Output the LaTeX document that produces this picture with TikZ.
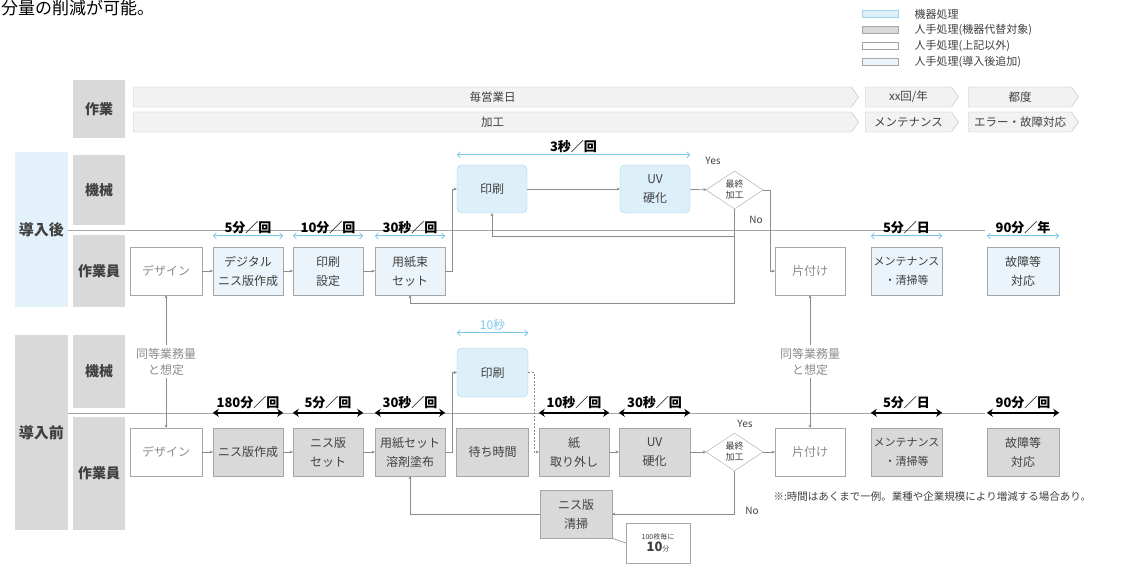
\documentclass[tikz,border=0pt]{standalone}
\usepackage{fontspec}
\setmainfont{Noto Sans CJK JP}
\usetikzlibrary{arrows.meta,shapes.geometric,shapes.symbols}

\definecolor{kiki}{HTML}{DDEFF9}
\definecolor{kikiline}{HTML}{9DD4EF}
\definecolor{tsuika}{HTML}{EBF4FA}
\definecolor{jinte}{HTML}{D9D9D9}
\definecolor{waku}{HTML}{A6A6A6}
\definecolor{usui}{HTML}{F2F2F2}
\definecolor{moji}{HTML}{404040}
\definecolor{usumoji}{HTML}{8C8C8C}
\definecolor{ao}{HTML}{7CC6EA}
\definecolor{obi}{HTML}{E3F1FA}

\begin{document}
\begin{tikzpicture}[x=1pt,y=-1pt,
	box/.style={draw=waku,minimum width=70,minimum height=48,inner sep=1,align=center,font=\fontsize{12}{19}\selectfont,text=moji},
	kikibox/.style={box,fill=kiki,draw=kikiline,rounded corners=5},
	jintebox/.style={box,fill=jinte},
	tsuikabox/.style={box,fill=tsuika},
	sonotabox/.style={box,fill=white,text=usumoji},
	hantei/.style={diamond,draw=waku,fill=white,aspect=1.5,minimum width=57,minimum height=38,inner sep=0,align=center,font=\fontsize{9}{11}\selectfont,text=moji},
	midashi/.style={fill=jinte,minimum width=52,inner sep=0,font=\bfseries\fontsize{14}{16}\selectfont,text=moji},
	yabane/.style={signal,signal to=east,signal pointer angle=110,draw=waku!70,fill=usui,minimum height=20,inner sep=0,font=\fontsize{11.5}{13}\selectfont,text=moji},
	yajirushi/.style={draw=usumoji,line width=0.6,-{Stealth[length=3pt,width=3pt]}},
	kurosen/.style={line width=2,{Stealth[length=6pt,width=8pt]}-{Stealth[length=6pt,width=8pt]}},
	aosen/.style={draw=ao,line width=0.8,{Straight Barb[length=3pt,width=6pt]}-{Straight Barb[length=3pt,width=6pt]}},
	jikan/.style={font=\bfseries\fontsize{13}{15}\selectfont,text=black,inner sep=1},
	komoji/.style={font=\fontsize{10}{12}\selectfont,text=moji}]
	\useasboundingbox[fill=white] (0,0) rectangle (1141,564);
	
	\node[anchor=north west,inner sep=0,font=\fontsize{17}{19}\selectfont,text=black] (bunshou) at (1,0) {分量の削減が可能。};
	
	\node[fill=kiki,draw=kikiline,minimum width=36,minimum height=7,inner sep=0] (hanrei1) at (880,14) {};
	\node[fill=jinte,draw=waku,minimum width=36,minimum height=7,inner sep=0] (hanrei2) at (880,30) {};
	\node[fill=white,draw=waku,minimum width=36,minimum height=7,inner sep=0] (hanrei3) at (880,46) {};
	\node[fill=tsuika,draw=waku,minimum width=36,minimum height=7,inner sep=0] (hanrei4) at (880,62) {};
	\node[anchor=west,font=\fontsize{11}{13}\selectfont,text=moji] (hanreimoji1) at (911,14) {機器処理};
	\node[anchor=west,font=\fontsize{11}{13}\selectfont,text=moji] (hanreimoji2) at (911,30) {人手処理(機器代替対象)};
	\node[anchor=west,font=\fontsize{11}{13}\selectfont,text=moji] (hanreimoji3) at (911,46) {人手処理(上記以外)};
	\node[anchor=west,font=\fontsize{11}{13}\selectfont,text=moji] (hanreimoji4) at (911,62) {人手処理(導入後追加)};
	
	\node[midashi,minimum height=58] (sagyou) at (99,109) {作業};
	\node[yabane,minimum width=725] (maieigyou) at (492.5,97) {毎営業日};
	\node[yabane,minimum width=93] (nenkai) at (908.5,97) {xx回/年};
	\node[yabane,minimum width=110] (tsudo) at (1020,97) {都度};
	\node[yabane,minimum width=725] (kakou) at (492.5,122) {加工};
	\node[yabane,minimum width=93] (mente) at (908.5,122) {メンテナンス};
	\node[yabane,minimum width=110] (eraa) at (1020,122) {エラー・故障対応};
	
	\node[fill=obi,minimum width=53,minimum height=155,inner sep=0,font=\bfseries\fontsize{15}{17}\selectfont,text=moji] (dounyugo) at (41.5,229.5) {導入後};
	\node[midashi,minimum height=70] (kikaiA) at (99,190) {機械};
	\node[midashi,minimum height=72] (sagyouinA) at (99,271) {作業員};
	\draw[waku] (68,230) -- (985,230);
	
	\node[fill=jinte,minimum width=53,minimum height=195,inner sep=0,font=\bfseries\fontsize{15}{17}\selectfont,text=moji] (dounyumae) at (41.5,432.5) {導入前};
	\node[midashi,minimum height=73] (kikaiB) at (99,371.5) {機械};
	\node[midashi,minimum height=113] (sagyouinB) at (99,473.5) {作業員};
	\draw[waku] (68,413) -- (985,413);
	
	\node[sonotabox,minimum width=72] (designA) at (166,271) {デザイン};
	\node[tsuikabox] (digitalA) at (248,271) {デジタル\\ニス版作成};
	\node[tsuikabox] (setteiA) at (328,271) {印刷\\設定};
	\node[tsuikabox] (yoshiA) at (410,271) {用紙束\\セット};
	\node[kikibox] (insatsuA) at (492,189) {印刷};
	\node[kikibox] (uvA) at (655,189) {UV\\硬化};
	\node[hantei] (hanteiA) at (734.5,190) {最終\\加工};
	\node[sonotabox] (katazukeA) at (810,271) {片付け};
	\node[tsuikabox,minimum width=71,font=\fontsize{11}{19}\selectfont] (menteA) at (906.5,271) {メンテナンス\\・清掃等};
	\node[tsuikabox,minimum width=72] (koshoA) at (1023,271) {故障等\\対応};
	
	\draw[aosen] ([yshift=11]digitalA.north west) -- ([yshift=11]digitalA.north east) node[jikan,midway,above=1pt] {5分／回};
	\draw[aosen] ([yshift=11]setteiA.north west) -- ([yshift=11]setteiA.north east) node[jikan,midway,above=1pt] {10分／回};
	\draw[aosen] ([yshift=11]yoshiA.north west) -- ([yshift=11]yoshiA.north east) node[jikan,midway,above=1pt] {30秒／回};
	\draw[aosen] ([yshift=10]insatsuA.north west) -- ([yshift=10]uvA.north east) node[jikan,midway,above=1pt] {3秒／回};
	\draw[aosen] ([yshift=11]menteA.north west) -- ([yshift=11]menteA.north east) node[jikan,midway,above=1pt] {5分／日};
	\draw[aosen] ([yshift=11]koshoA.north west) -- ([yshift=11]koshoA.north east) node[jikan,midway,above=1pt] {90分／年};
	
	\draw[yajirushi] (designA) -- (digitalA);
	\draw[yajirushi] (digitalA) -- (setteiA);
	\draw[yajirushi] (setteiA) -- (yoshiA);
	\draw[yajirushi] (yoshiA.east) -- ++(7,0) |- (insatsuA.west);
	\draw[yajirushi] (insatsuA) -- (uvA);
	\draw[yajirushi] (uvA) -- (hanteiA);
	\draw[yajirushi] (hanteiA.east) -- ++(7,0) |- (katazukeA.west);
	\draw[yajirushi] (hanteiA.south) -- ++(0,27) -| (insatsuA.south);
	\draw[yajirushi] (hanteiA.south) -- ++(0,94) -| (yoshiA.south);
	\node[komoji] (yesA) at (713,161) {Yes};
	\node[komoji] (noA) at (756,220) {No};
	
	\node[sonotabox,minimum width=72] (designB) at (166,452) {デザイン};
	\node[jintebox] (nisuB) at (248,452) {ニス版作成};
	\node[jintebox] (nisusetB) at (328,452) {ニス版\\セット};
	\node[jintebox] (yoshiB) at (410,452) {用紙セット\\溶剤塗布};
	\node[kikibox,minimum width=71,minimum height=49] (insatsuB) at (492.5,372.5) {印刷};
	\node[jintebox,minimum width=72] (machiB) at (492.5,452) {待ち時間};
	\node[jintebox] (kamiB) at (574,452) {紙\\取り外し};
	\node[jintebox,minimum width=71] (uvB) at (654.5,452) {UV\\硬化};
	\node[hantei] (hanteiB) at (734.5,452) {最終\\加工};
	\node[sonotabox] (katazukeB) at (810,452) {片付け};
	\node[jintebox,minimum width=71,font=\fontsize{11}{19}\selectfont] (menteB) at (906.5,452) {メンテナンス\\・清掃等};
	\node[jintebox,minimum width=72] (koshoB) at (1023,452) {故障等\\対応};
	\node[jintebox,minimum width=72] (seisouB) at (576,514) {ニス版\\清掃};
	\node[draw=waku,fill=white,minimum width=64,minimum height=40,inner sep=1,align=center,text=moji] (maisuu) at (658,543) {\fontsize{7}{9}\selectfont 100枚毎に\\{\bfseries\fontsize{13}{15}\selectfont 10}{\fontsize{7}{9}\selectfont 分}};
	
	\draw[aosen] ([yshift=15]insatsuB.north west) -- ([yshift=15]insatsuB.north east) node[jikan,midway,above=1pt,text=ao,font=\fontsize{12}{14}\selectfont] {10秒};
	\draw[kurosen] ([yshift=15]nisuB.north west) -- ([yshift=15]nisuB.north east) node[jikan,midway,above=2pt] {180分／回};
	\draw[kurosen] ([yshift=15]nisusetB.north west) -- ([yshift=15]nisusetB.north east) node[jikan,midway,above=2pt] {5分／回};
	\draw[kurosen] ([yshift=15]yoshiB.north west) -- ([yshift=15]yoshiB.north east) node[jikan,midway,above=2pt] {30秒／回};
	\draw[kurosen] ([yshift=15]kamiB.north west) -- ([yshift=15]kamiB.north east) node[jikan,midway,above=2pt] {10秒／回};
	\draw[kurosen] ([yshift=15]uvB.north west) -- ([yshift=15]uvB.north east) node[jikan,midway,above=2pt] {30秒／回};
	\draw[kurosen] ([yshift=15]menteB.north west) -- ([yshift=15]menteB.north east) node[jikan,midway,above=2pt] {5分／日};
	\draw[kurosen] ([yshift=15]koshoB.north west) -- ([yshift=15]koshoB.north east) node[jikan,midway,above=2pt] {90分／回};
	
	\draw[yajirushi] (designB) -- (nisuB);
	\draw[yajirushi] (nisuB) -- (nisusetB);
	\draw[yajirushi] (nisusetB) -- (yoshiB);
	\draw[yajirushi] (yoshiB.east) -- ++(7,0) |- (insatsuB.west);
	\draw[yajirushi,dash pattern=on 2pt off 1.5pt] (insatsuB.east) -- ++(6,0) |- (kamiB.west);
	\draw[yajirushi] (kamiB) -- (uvB);
	\draw[yajirushi] (uvB) -- (hanteiB);
	\draw[yajirushi] (hanteiB) -- (katazukeB);
	\draw[yajirushi] (hanteiB.south) |- (seisouB.east);
	\draw[yajirushi] (seisouB.west) -| (yoshiB.south);
	\draw[draw=usumoji,line width=0.6] (seisouB.south east) -- (maisuu.west);
	\node[komoji] (yesB) at (745,424) {Yes};
	\node[komoji] (noB) at (752,511) {No};
	
	\draw[yajirushi,{Stealth[length=3pt,width=3pt]}-{Stealth[length=3pt,width=3pt]}] (designA) -- (designB) node[midway,fill=white,align=center,text=usumoji,font=\fontsize{12}{16}\selectfont] {同等業務量\\と想定};
	\draw[yajirushi,{Stealth[length=3pt,width=3pt]}-{Stealth[length=3pt,width=3pt]}] (katazukeA) -- (katazukeB) node[midway,fill=white,align=center,text=usumoji,font=\fontsize{12}{16}\selectfont] {同等業務量\\と想定};
	
	\node[anchor=west,font=\fontsize{10.5}{12}\selectfont,text=moji] (chuui) at (770,497) {※:時間はあくまで一例。業種や企業規模により増減する場合あり。};
\end{tikzpicture}
\end{document}
